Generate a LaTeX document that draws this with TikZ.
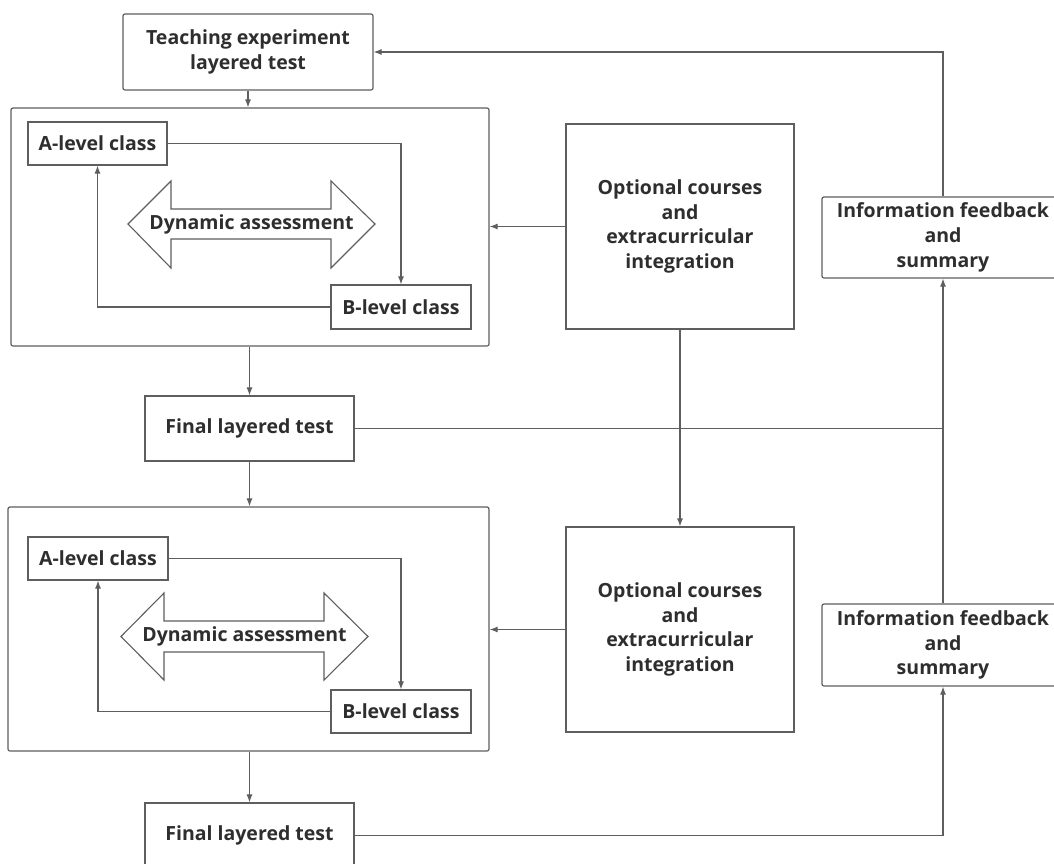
\documentclass[tikz,border=0pt]{standalone}
\usepackage{fontspec}
\setmainfont{Open Sans}
\usetikzlibrary{arrows.meta}
\definecolor{linegray}{HTML}{5E5E5E}
\definecolor{textgray}{HTML}{2E2E2E}
\tikzset{
  box/.style={draw=linegray, line width=1.2pt, text=textgray, align=center, inner sep=0pt,
    font=\bfseries\fontsize{19.5}{24.8}\selectfont},
  rbox/.style={box, rounded corners=2pt},
  conn/.style={draw=linegray, line width=1.1pt},
  arr/.style={conn, -{Latex[length=8pt,width=6pt]}},
  dblarrow/.style={draw=linegray, line width=1.1pt, fill=white},
  dyntext/.style={text=textgray, font=\bfseries\fontsize{19.5}{24.8}\selectfont, inner sep=0pt}
}
\begin{document}
\begin{tikzpicture}[x=1pt,y=-1pt]
\clip (0,0) rectangle (1054,863);
\fill[white] (0,0) rectangle (1054,863);
% top
\node[rbox, minimum width=250pt, minimum height=76pt] (top) at (248,52) {Teaching experiment\\layered test};
% block 1
\node[rbox, minimum width=478pt, minimum height=238pt] (big1) at (250,227) {};
\node[box, minimum width=139pt, minimum height=43pt] (A1) at (97.5,143.5) {A-level class};
\node[box, minimum width=140pt, minimum height=44pt] (B1) at (401,307) {B-level class};
\draw[dblarrow] (128,224) -- (171,181) -- (171,209) -- (331,209) -- (331,181) -- (375,224)
  -- (331,268) -- (331,239) -- (171,239) -- (171,268) -- cycle;
\node[dyntext] (dyn1) at (251.5,224) {Dynamic assessment};
\node[box, minimum width=228pt, minimum height=205pt] (opt1) at (680,226.5) {Optional courses\\and\\extracurricular\\integration};
\node[rbox, minimum width=242pt, minimum height=81pt] (info1) at (943,237.5) {Information feedback\\and\\summary};
\node[box, minimum width=209pt, minimum height=65pt] (final1) at (249.5,428.5) {Final layered test};
% block 2
\node[rbox, minimum width=481pt, minimum height=244pt] (big2) at (248.5,629) {};
\node[box, minimum width=140pt, minimum height=43pt] (A2) at (98,558.5) {A-level class};
\node[box, minimum width=140pt, minimum height=43pt] (B2) at (401,711.5) {B-level class};
\draw[dblarrow] (121,636.5) -- (164,593) -- (164,621) -- (324,621) -- (324,593) -- (368,636.5)
  -- (324,680) -- (324,652) -- (164,652) -- (164,680) -- cycle;
\node[dyntext] (dyn2) at (244.5,636.5) {Dynamic assessment};
\node[box, minimum width=228pt, minimum height=205pt] (opt2) at (680,629.5) {Optional courses\\and\\extracurricular\\integration};
\node[rbox, minimum width=242pt, minimum height=82pt] (info2) at (943,645) {Information feedback\\and\\summary};
\node[box, minimum width=209pt, minimum height=65pt] (final2) at (249.5,835.5) {Final layered test};
% connectors
\draw[arr] (top.south) -- (top.south |- big1.north);
\draw[arr] (A1.east) -| (B1.north);
\draw[arr] (B1.west) -| (A1.south);
\draw[arr] (opt1.west) -- (opt1.west -| big1.east);
\draw[arr] (big1.south -| final1.north) -- (final1.north);
\draw[arr] (final1.east) -| (info1.south);
\draw[conn] (info2.north) -- (info2.north |- final1.east);
\draw[arr] (info1.north) |- (top.east);
\draw[arr] (opt1.south) -- (opt2.north);
\draw[arr] (final1.south) -- (final1.south |- big2.north);
\draw[arr] (A2.east) -| (B2.north);
\draw[arr] (B2.west) -| (A2.south);
\draw[arr] (opt2.west) -- (opt2.west -| big2.east);
\draw[arr] (big2.south -| final2.north) -- (final2.north);
\draw[arr] (final2.east) -| (info2.south);
\end{tikzpicture}
\end{document}
